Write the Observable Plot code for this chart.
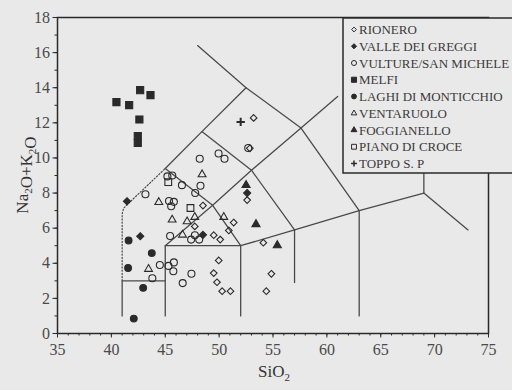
<!DOCTYPE html>
<html><head><meta charset="utf-8">
<script src="https://cdn.jsdelivr.net/npm/d3@7"></script>
<script src="https://cdn.jsdelivr.net/npm/@observablehq/plot@0.6"></script>
<style>
html,body{margin:0;padding:0;background:#e9e9e9;}
#wrap{position:relative;width:512px;height:390px;overflow:hidden;background:#e9e9e9;}
</style></head><body><div id="wrap"></div>
<script>
// ---- axis ticks ----
const xTicks = [35, 40, 45, 50, 55, 60, 65, 70, 75];
const yTicks = [0, 2, 4, 6, 8, 10, 12, 14, 16, 18];
const xMinor = d3.range(35, 76, 1);
const yMinor = d3.range(0, 19, 1);

// ---- series (SiO2, Na2O+K2O) ----
const rionero = [[53.2,12.28],[52.85,10.55],[52.6,7.6],[48.5,7.29],[47.74,6.1],[49.5,5.6],[50.1,5.35],[50.9,5.87],[51.35,6.32],[49.96,4.16],[49.5,3.44],[49.8,2.92],[50.28,2.41],[51.05,2.41],[54.85,3.4],[54.38,2.41],[54.1,5.17]];
const valleDeiGreggi = [[41.45,7.53],[42.68,5.54],[48.5,5.62],[52.6,8.0]];
const vultureSanMichele = [[43.16,7.93],[45.2,8.95],[45.65,9.0],[46.55,8.45],[47.78,8.0],[48.27,8.42],[48.2,9.95],[49.95,10.25],[50.5,9.95],[52.7,10.57],[45.35,7.55],[45.8,7.5],[45.55,7.25],[45.45,5.55],[47.4,5.35],[47.75,5.6],[48.15,5.35],[43.8,3.15],[44.5,3.9],[45.3,3.85],[45.8,4.05],[45.75,3.55],[46.62,2.87],[47.43,3.4]];
const melfi = [[40.47,13.18],[41.65,13.01],[42.67,13.86],[43.63,13.58],[42.6,12.19],[42.45,11.25],[42.45,10.85]];
const laghiDiMonticchio = [[41.6,5.3],[43.75,4.58],[41.55,3.73],[42.95,2.6],[42.08,0.85]];
const ventaruolo = [[48.42,9.06],[44.4,7.48],[45.64,6.48],[47.74,6.63],[47.03,6.38],[46.6,5.62],[43.45,3.67],[50.43,6.63]];
const foggianello = [[52.5,8.45],[53.42,6.22],[55.4,5.02]];
const pianoDiCroce = [[45.28,8.62],[47.34,7.15]];
const toppoSP = [[52.0,12.05]];

const legendNames = ["RIONERO","VALLE DEI GREGGI","VULTURE/SAN MICHELE","MELFI","LAGHI DI MONTICCHIO","VENTARUOLO","FOGGIANELLO","PIANO DI CROCE","TOPPO S. P"];

// ---- TAS classification boundaries ----
const tasLines = [
  [[41,1],[41,3],[45,3]],
  [[45,1],[45,5],[52,5],[57,5.9],[63,7],[69,8],[73.1,5.9]],
  [[52,1],[52,5]],
  [[57,2.9],[57,5.9]],
  [[63,1],[63,7]],
  [[69,8],[69,13]],
  [[45,5],[49.4,7.3],[53,9.3],[57.6,11.7],[61,13.5]],
  [[52,5],[49.4,7.3],[45,9.4]],
  [[57,5.9],[53,9.3],[48.4,11.5]],
  [[63,7],[57.6,11.7],[52.5,14],[48,16.4]],
  [[45,9.4],[48.4,11.5],[52.5,14]]
];
const tasDotted = [[41,3],[41,6.8],[41.12,7.12],[41.45,7.33],[45,9.4]];

const ink = "#2a2a2a";
const groups = [
  {data: rionero, symbol: "diamond2", filled: false, r: 3.0},
  {data: valleDeiGreggi, symbol: "diamond2", filled: true, r: 3.2},
  {data: vultureSanMichele, symbol: "circle", filled: false, r: 3.5},
  {data: melfi, symbol: "square", filled: true, r: 4.0},
  {data: laghiDiMonticchio, symbol: "circle", filled: true, r: 3.4},
  {data: ventaruolo, symbol: "triangle", filled: false, r: 2.9},
  {data: foggianello, symbol: "triangle", filled: true, r: 3.0},
  {data: pianoDiCroce, symbol: "square", filled: false, r: 3.8},
  {data: toppoSP, symbol: "plus", filled: false, r: 2.8}
];

const lineRows = tasLines.flatMap((l, i) => l.map(([x, y]) => ({id: i, x, y})));
const dotRows = tasDotted.map(([x, y]) => ({x, y}));

const marks = [
  Plot.line(lineRows, {x: "x", y: "y", z: "id", stroke: "#4a4a4a", strokeWidth: 1.3}),
  Plot.line(dotRows, {x: "x", y: "y", stroke: "#4a4a4a", strokeWidth: 1.2, strokeDasharray: "1.2,2"}),
  Plot.axisX({ticks: xMinor, tickSize: 2.5, tickFormat: () => "", stroke: ink, label: null}),
  Plot.axisY({ticks: yMinor, tickSize: 2.5, tickFormat: () => "", stroke: ink, label: null}),
  Plot.axisX({ticks: xTicks, tickSize: 4.5, tickPadding: 6, fontSize: 16, stroke: ink, fill: "#4a4a4a", label: null}),
  Plot.axisY({ticks: yTicks, tickSize: 4.5, tickPadding: 3, fontSize: 16, stroke: ink, fill: "#4a4a4a", label: null}),
  Plot.frame({stroke: ink, strokeWidth: 1.5})
];
for (const g of groups) {
  const rows = g.data.map(([x, y]) => ({x, y}));
  marks.push(Plot.dot(rows, {
    x: "x", y: "y", symbol: g.symbol, r: g.r,
    fill: g.filled ? ink : "none",
    stroke: ink, strokeWidth: g.symbol === "plus" ? 2 : 1.1
  }));
}

const svg = Plot.plot({
  width: 512, height: 390,
  marginLeft: 57, marginRight: 24, marginTop: 17, marginBottom: 57,
  x: {domain: [35, 75], label: null},
  y: {domain: [0, 18], label: null},
  style: {background: "transparent", fontFamily: "'Liberation Serif', serif", color: "#4a4a4a"},
  marks
});
document.getElementById("wrap").appendChild(svg);

// ---- axis titles with subscripts ----
const s = d3.select(svg);
function subText(sel, parts) {
  for (const [t, sub] of parts) {
    sel.append("tspan").attr("font-size", sub ? 11 : 17).attr("dy", sub ? 4 : 0).text(t);
    if (sub) sel.append("tspan").attr("font-size", 17).attr("dy", -4).text("");
  }
}
const xl = s.append("text").attr("x", 274).attr("y", 377).attr("text-anchor", "middle")
  .attr("font-family", "'Liberation Serif', serif").attr("fill", "#333");
subText(xl, [["SiO",0],["2",1]]);
const yl = s.append("text").attr("transform", "translate(28,175) rotate(-90)").attr("text-anchor", "middle")
  .attr("font-family", "'Liberation Serif', serif").attr("fill", "#333");
subText(yl, [["Na",0],["2",1],["O+K",0],["2",1],["O",0]]);

// ---- legend box ----
const lg = s.append("g").attr("text-anchor", "start");
lg.append("rect").attr("x", 343).attr("y", 18).attr("width", 220).attr("height", 155)
  .attr("fill", "#e9e9e9").attr("stroke", ink).attr("stroke-width", 1.5);
const symMap = {diamond2: d3.symbolDiamond2, circle: d3.symbolCircle, square: d3.symbolSquare, triangle: d3.symbolTriangle, plus: d3.symbolPlus};
groups.forEach((g, i) => {
  const cy = 29.5 + i * 16.75;
  const size = Math.PI * Math.pow(g.r * 0.72, 2);
  lg.append("path").attr("d", d3.symbol(symMap[g.symbol], size)())
    .attr("transform", `translate(354,${cy})`)
    .attr("fill", g.filled ? ink : "none").attr("stroke", ink).attr("stroke-width", g.symbol === "plus" ? 1.5 : 1);
  lg.append("text").attr("x", 359).attr("y", cy + 4.5).attr("font-size", 13).attr("text-anchor", "start")
    .attr("font-family", "'Liberation Serif', serif").attr("fill", "#3a3a3a").text(legendNames[i]);
});
</script></body></html>
